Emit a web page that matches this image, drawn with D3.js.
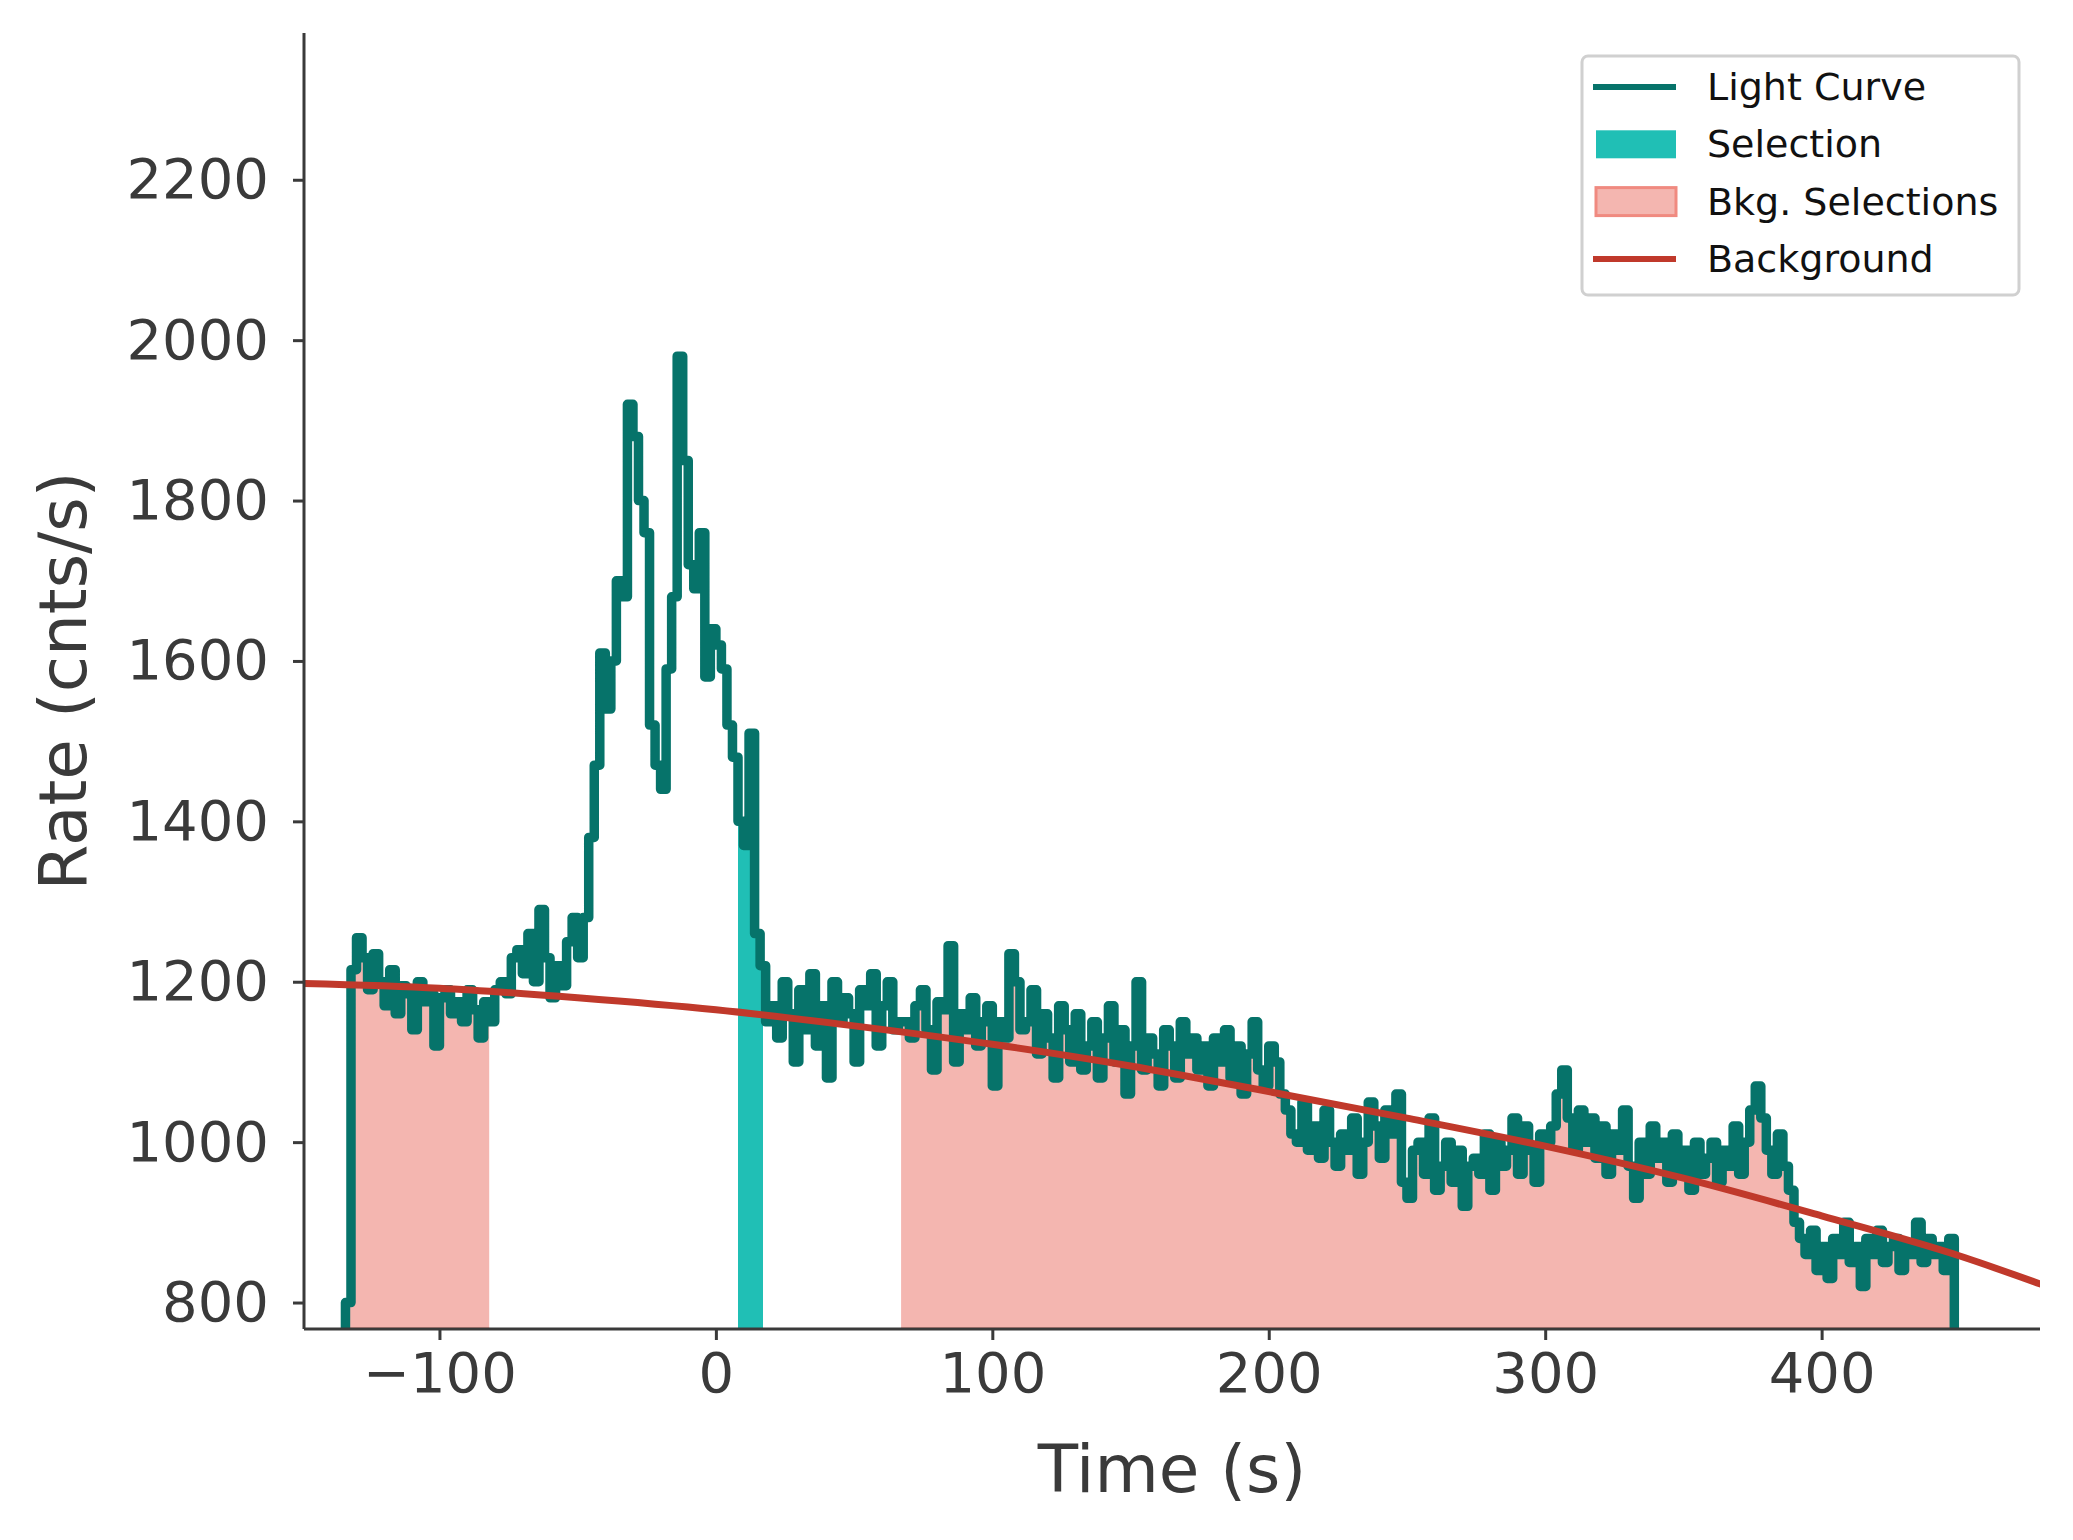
<!DOCTYPE html>
<html><head><meta charset="utf-8">
<script src="https://cdn.jsdelivr.net/npm/d3@7"></script>
<style>body{margin:0;background:#fff}text{font-family:"DejaVu Sans",sans-serif}</style>
</head><body><svg id="c" width="2073" height="1540"></svg>
<script>
const binStart = -134, binWidth = 2;
const rates = [
800,1215,1255,1230,1190,1235,1200,1170,1215,1160,1195,1185,1140,1200,1175,1185,1120,1180,1190,1160,1175,1150,1190,1165,1130,1175,
1150,1190,1200,1185,1230,1240,1210,1260,1200,1290,1230,1180,1220,1195,1250,1280,
1230,1280,1380,1470,1610,1540,1600,1700,1680,1920,1880,1800,1760,1520,1470,1440,1590,1680,1980,1850,1720,1690,1760,1580,1640,1620,1590,1520,1480,1400,1370,1510,1260,1220,1150,
1170,1130,1200,1160,1100,1190,1140,1210,1120,1170,1080,1200,1150,1180,1160,1100,1190,1170,1210,1120,1170,1200,1140,1150,
1150,1130,1170,1190,1140,1090,1175,1165,1245,1100,1160,1140,1180,1120,1150,1170,1070,1150,1130,1235,1200,1140,1150,1190,1110,1160,1130,1080,1170,1140,1100,1160,1090,1120,1150,1080,1130,1170,1100,1140,1060,1120,1200,1090,1130,1110,1070,1140,1120,1080,1150,1110,1130,1090,1120,1070,1130,1100,1140,1080,1120,1060,1110,1150,1090,1070,1120,
1100,1060,1040,1010,1000,1050,990,1020,980,1040,1000,970,1010,990,1030,960,1000,1050,1020,980,1040,1010,1060,950,930,990,1000,960,1030,940,970,1000,950,990,920,970,980,960,1010,940,1000,970,990,1030,960,1020,990,950,1010,1000,
1020,1060,1090,1030,990,1040,1000,1030,980,1020,960,1010,990,1040,970,930,1000,960,1020,980,1000,950,1010,960,990,940,1000,960,980,1000,950,990,970,1020,960,1000,1040,1070,1030,990,960,1010,970,
940,900,880,860,890,840,870,830,880,860,900,850,870,820,880,860,890,850,870,880,840,870,860,900,850,880,860,870,840,880];
const bkgT = [-150,-100,-50,0,50,100,150,200,250,300,350,400,450,480];
const bkgR = [1198,1192,1180,1165,1145,1122,1095,1063,1030,995,955,908,858,822];
const selection = [8,17];
const bkgSelections = [[-133,-82],[67,448]];
const xTicks = [-100,0,100,200,300,400];
const yTicks = [800,1000,1200,1400,1600,1800,2000,2200];

const svg = d3.select('#c');
const L=304,R=2040,T=33,B=1329;
const x = d3.scaleLinear().domain([-149,479]).range([L,R]);
const y = d3.scaleLinear().domain([767,2383]).range([B,T]);
const pts = rates.map((r,i)=>({t:binStart+i*binWidth,r}));
const tEnd = binStart+rates.length*binWidth;
const ptsExt = pts.concat([{t:tEnd,r:rates[rates.length-1]}]);
const defs = svg.append('defs');
defs.append('clipPath').attr('id','plot').append('rect').attr('x',L).attr('y',T).attr('width',R-L).attr('height',B-T);
const area = d3.area().curve(d3.curveStepAfter).x(d=>x(d.t)).y0(y(767)).y1(d=>y(d.r));
function band(rng,fill,stroke,id){
  defs.append('clipPath').attr('id',id).append('rect').attr('x',x(rng[0])).attr('y',T).attr('width',x(rng[1])-x(rng[0])).attr('height',B-T);
  svg.append('path').datum(ptsExt).attr('d',area).attr('fill',fill).attr('stroke',stroke).attr('stroke-width',stroke?3:0).attr('clip-path',`url(#${id})`);
}
bkgSelections.forEach((s,i)=>band(s,'#f4b6b0','#f08a80','bk'+i));
band(selection,'#20bfb5',null,'sel');
const line = d3.line().curve(d3.curveStepAfter).x(d=>x(d.t)).y(d=>y(d.r));
const lcPts = [{t:binStart,r:767}].concat(ptsExt).concat([{t:tEnd,r:767}]);
svg.append('path').datum(lcPts).attr('d',line).attr('fill','none').attr('stroke','#06736a').attr('stroke-width',9.5).attr('stroke-linejoin','round').attr('stroke-linecap','round').attr('clip-path','url(#plot)');
const bl = d3.line().curve(d3.curveMonotoneX).x((d,i)=>x(bkgT[i])).y((d,i)=>y(bkgR[i]));
svg.append('path').datum(bkgT).attr('d',bl).attr('fill','none').attr('stroke','#c0392b').attr('stroke-width',7).attr('clip-path','url(#plot)');

const xa = svg.append('g').attr('transform',`translate(0,${B})`).call(d3.axisBottom(x).tickValues(xTicks).tickSize(11).tickPadding(12).tickFormat(d=>d<0?'\u2212'+(-d):d));
const ya = svg.append('g').attr('transform',`translate(${L},0)`).call(d3.axisLeft(y).tickValues(yTicks).tickSize(11).tickPadding(24).tickFormat(d3.format('d')));
[xa,ya].forEach(a=>{a.selectAll('path,line').attr('stroke','#3a3a3a').attr('stroke-width',3);a.selectAll('text').attr('fill','#3a3a3a').style('font-size','56px');a.select('.domain').attr('d',a===xa?`M${L},0H${R}`:`M0,${T}V${B}`);});
svg.append('text').attr('x',(L+R)/2).attr('y',1492).attr('text-anchor','middle').attr('fill','#3a3a3a').style('font-size','66px').text('Time (s)');
svg.append('text').attr('transform',`translate(86,${(T+B)/2}) rotate(-90)`).attr('text-anchor','middle').attr('fill','#3a3a3a').style('font-size','66px').text('Rate (cnts/s)');

const lg = svg.append('g');
lg.append('rect').attr('x',1582).attr('y',56).attr('width',437).attr('height',239).attr('rx',6).attr('fill','#fff').attr('stroke','#d0d0d0').attr('stroke-width',3);
const items=[['Light Curve','line','#06736a'],['Selection','rect','#20bfb5'],['Bkg. Selections','rect','#f4b6b0'],['Background','line','#c0392b']];
items.forEach((it,i)=>{const cy=87+i*57.3;
 if(it[1]==='line') lg.append('line').attr('x1',1593).attr('x2',1676).attr('y1',cy).attr('y2',cy).attr('stroke',it[2]).attr('stroke-width',6);
 else lg.append('rect').attr('x',1596).attr('y',cy-14).attr('width',80).attr('height',28).attr('fill',it[2]).attr('stroke',i===2?'#f08a80':'none').attr('stroke-width',3);
 lg.append('text').attr('x',1707).attr('y',cy+13).attr('fill','#111').style('font-size','38px').text(it[0]);
});
</script></body></html>
